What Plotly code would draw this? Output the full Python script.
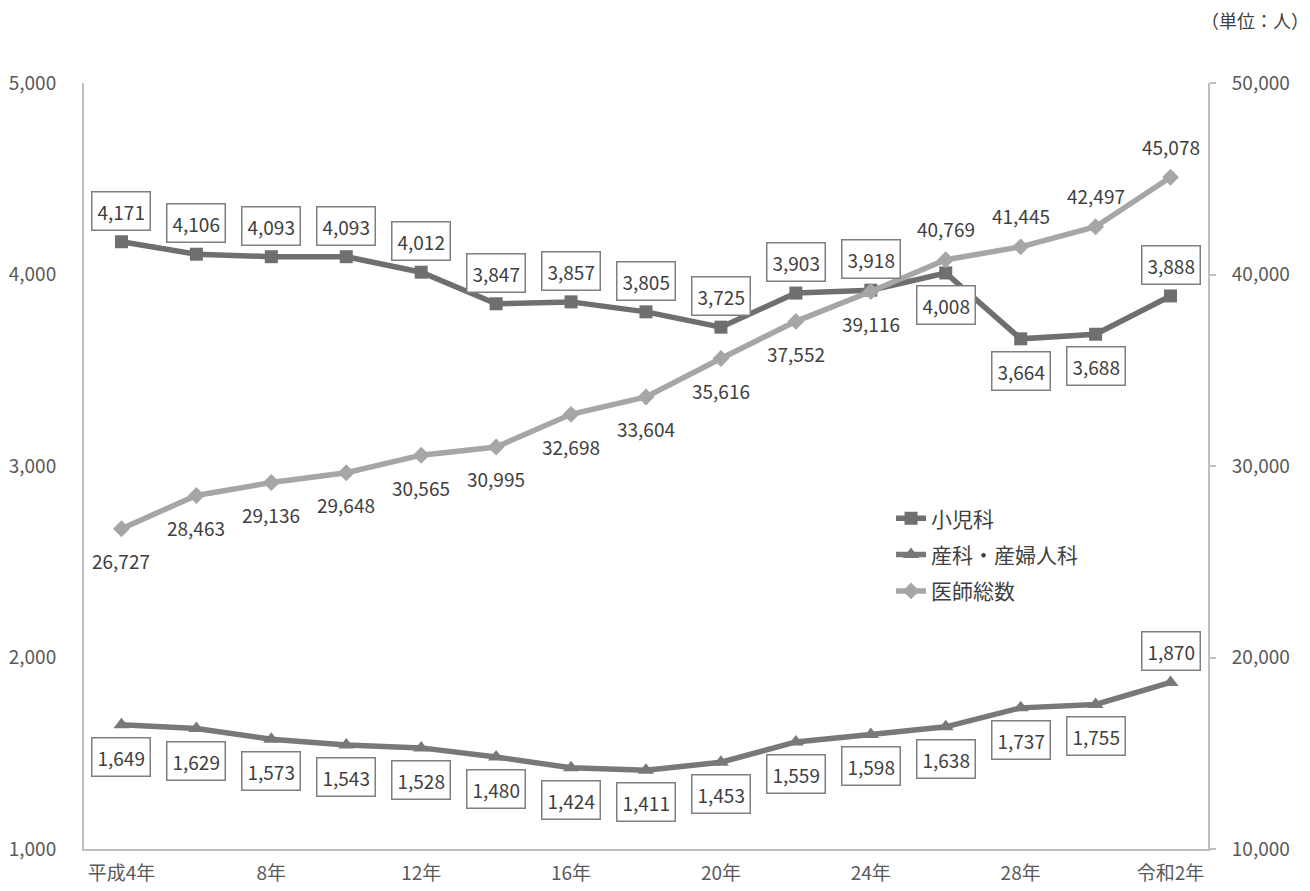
import plotly.graph_objects as go

years = ["平成4年", "6年", "8年", "10年", "12年", "14年", "16年", "18年", "20年",
         "22年", "24年", "26年", "28年", "30年", "令和2年"]
pediatrics = [4171, 4106, 4093, 4093, 4012, 3847, 3857, 3805, 3725, 3903, 3918, 4008, 3664, 3688, 3888]
obstetrics = [1649, 1629, 1573, 1543, 1528, 1480, 1424, 1411, 1453, 1559, 1598, 1638, 1737, 1755, 1870]
total = [26727, 28463, 29136, 29648, 30565, 30995, 32698, 33604, 35616, 37552, 39116, 40769, 41445, 42497, 45078]
tick_years = ["平成4年", "8年", "12年", "16年", "20年", "24年", "28年", "令和2年"]

# label placement (style)
ped_pos = ["above"] * 11 + ["below"] * 3 + ["above"]
obs_pos = ["below"] * 14 + ["above"]
tot_pos = ["below"] * 11 + ["above"] * 4

FONT = "Noto Sans CJK JP"
C_PED = "#6f6f6f"
C_OBS = "#787878"
C_TOT = "#a6a6a6"
TXT = "#404040"
AX = "#595959"

fig = go.Figure()
fig.add_trace(go.Scatter(x=years, y=pediatrics, name="小児科", mode="lines+markers",
                         line=dict(color=C_PED, width=5.5), marker=dict(symbol="square", size=13, color=C_PED),
                         legendgroup="a", yaxis="y"))
fig.add_trace(go.Scatter(x=years, y=obstetrics, name="産科・産婦人科", mode="lines+markers",
                         line=dict(color=C_OBS, width=5.5), marker=dict(symbol="triangle-up", size=14, color=C_OBS),
                         legendgroup="b", yaxis="y"))
fig.add_trace(go.Scatter(x=years, y=total, name="医師総数", mode="lines+markers",
                         line=dict(color=C_TOT, width=5.5), marker=dict(symbol="diamond", size=13, color=C_TOT),
                         legendgroup="c", yaxis="y2"))

ann = []
def add_labels(vals, pos, yref, boxed):
    for xv, v, p in zip(years, vals, pos):
        d = dict(x=xv, y=v, xref="x", yref=yref, text=f"{v:,}", showarrow=False,
                 yshift=31 if p == "above" else -32,
                 font=dict(family=FONT, size=19, color=TXT))
        if boxed:
            d.update(bordercolor="#7f7f7f", borderwidth=1.5, borderpad=5, bgcolor="white")
        ann.append(d)

add_labels(pediatrics, ped_pos, "y", True)
add_labels(obstetrics, obs_pos, "y", True)
add_labels(total, tot_pos, "y2", False)

ann.append(dict(text="（単位：人）", xref="paper", yref="paper", x=1.092, y=1.082,
                xanchor="right", yanchor="middle", showarrow=False,
                font=dict(family=FONT, size=18, color=TXT)))

fig.update_layout(
    width=1310, height=891,
    margin=dict(l=84, r=102, t=83, b=42, autoexpand=False),
    paper_bgcolor="white", plot_bgcolor="white",
    font=dict(family=FONT, size=19, color=AX),
    showlegend=True,
    legend=dict(x=0.718, y=0.458, xanchor="left", yanchor="top", bgcolor="rgba(0,0,0,0)",
                font=dict(family=FONT, size=21, color=TXT), tracegroupgap=6,
                traceorder="grouped"),
    annotations=ann,
    xaxis=dict(type="category", range=[-0.5, 14.5], showgrid=False, showline=True, automargin=False,
               linecolor="#bfbfbf", linewidth=2, ticks="", tickvals=tick_years, ticktext=tick_years,
               ticklabelstandoff=6, tickfont=dict(size=19, color=AX), zeroline=False),
    yaxis=dict(range=[1000, 5000], dtick=1000, tickformat=",", showgrid=False, showline=True, automargin=False,
               linecolor="#bfbfbf", linewidth=2, ticks="", ticklabelstandoff=22,
               tickfont=dict(size=19, color=AX), zeroline=False),
    yaxis2=dict(range=[10000, 50000], dtick=10000, tickformat=",", overlaying="y", side="right", automargin=False,
                showgrid=False, showline=True, linecolor="#bfbfbf", linewidth=2, ticks="outside",
                ticklen=6, tickcolor="#bfbfbf", tickwidth=2, ticklabelstandoff=12,
                tickfont=dict(size=19, color=AX), zeroline=False),
)

fig.write_html("out.html")
